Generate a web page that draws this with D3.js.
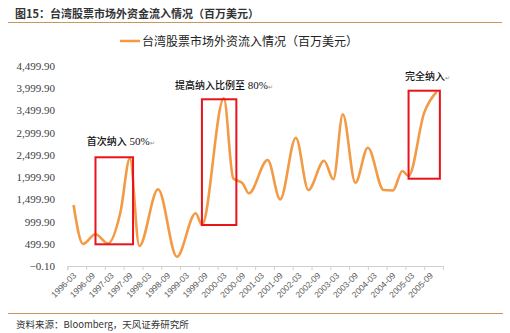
<!DOCTYPE html>
<html><head><meta charset="utf-8">
<script src="https://cdn.jsdelivr.net/npm/d3@7"></script>
<style>body{margin:0;background:#fff}svg{display:block}</style>
</head><body><svg id="c" width="510" height="333"></svg>
<script>
const titleText = "图15：台湾股票市场外资金流入情况（百万美元）";
const seriesName = "台湾股票市场外资流入情况（百万美元）";
const sourceText = "资料来源：Bloomberg，天风证券研究所";
const xLabels = ["1996-03","1996-09","1997-03","1997-09","1998-03","1998-09","1999-03","1999-09","2000-03","2000-09","2001-03","2001-09","2002-03","2002-09","2003-03","2003-09","2004-03","2004-09","2005-03","2005-09"];
const yTicks = [-0.1, 499.9, 999.9, 1499.9, 1999.9, 2499.9, 2999.9, 3499.9, 3999.9, 4499.9];
const dates = ["1996-05","1996-08","1996-12","1997-04","1997-08","1997-11","1998-02","1998-08","1999-02","1999-08","1999-10","2000-05","2000-08","2000-11","2001-01","2001-07","2001-11","2002-04","2002-08","2003-01","2003-04","2003-07","2003-11","2004-03","2004-08","2004-11","2005-02","2005-04","2005-09","2006-01"];
const values = [1372, 495, 713, 506, 1222, 2423, 450, 1726, 209, 1186, 922, 3773, 1973, 1861, 1636, 2385, 1500, 2887, 1710, 2369, 1951, 3413, 1874, 2662, 1710, 1700, 2137, 2025, 3450, 3922];
const boxLabels = ["首次纳入 50%", "提高纳入比例至 80%", "完全纳入"];
const boxStart = ["1996-12", "1999-10", "2005-04"];
const boxEnd = ["1997-12", "2000-09", "2006-02"];
const boxLow = [488, 922, 1964];
const boxHigh = [2446, 3751, 3944];

const svg = d3.select("#c");
const monthIdx = s => { const [y, m] = s.split("-").map(Number); return (y - 1996) * 12 + (m - 3); };
const x = d3.scaleLinear().domain([0, 120]).range([67.3, 443]);
const xb = d3.scaleBand().domain(xLabels).range([67.3, 443]);
const y = d3.scaleLinear().domain([-0.1, 4499.9]).range([266, 66]);

// title
svg.append("text").attr("x", 15).attr("y", 18).text(titleText)
  .attr("font-family", "'Noto Sans CJK SC', sans-serif").attr("font-size", 11).attr("font-weight", "bold").attr("fill", "#333");
svg.append("line").attr("x1", 8).attr("x2", 502).attr("y1", 22.5).attr("y2", 22.5).attr("stroke", "#c8955f").attr("stroke-width", 1.2);
svg.append("line").attr("x1", 8).attr("x2", 503).attr("y1", 313.5).attr("y2", 313.5).attr("stroke", "#c8955f").attr("stroke-width", 1.2);
svg.append("text").attr("x", 16).attr("y", 328).text(sourceText)
  .attr("font-family", "'Noto Sans CJK SC', sans-serif").attr("font-size", 9.5).attr("fill", "#333");

// legend
svg.append("line").attr("x1", 120).attr("x2", 140).attr("y1", 41).attr("y2", 41).attr("stroke", "#f29a45").attr("stroke-width", 2.5);
svg.append("text").attr("x", 142).attr("y", 45.5).text(seriesName)
  .attr("font-family", "'Noto Sans CJK SC', sans-serif").attr("font-size", 12).attr("fill", "#222");

// y axis labels
const yAxis = d3.axisLeft(y).tickValues(yTicks).tickSize(0).tickPadding(0)
  .tickFormat(d => d3.format(",.2f")(d));
const gy = svg.append("g").attr("transform", "translate(55,0)").call(yAxis);
gy.select(".domain").remove();
gy.selectAll("text").attr("font-family", "'Liberation Serif', serif").attr("font-size", 11).attr("fill", "#404040");

// x axis
const gx = svg.append("g").attr("transform", "translate(0,266)")
  .call(d3.axisBottom(x).tickValues(d3.range(0, 121, 6)).tickSize(4).tickFormat(""));
gx.selectAll("line, path").attr("stroke", "#d0d0d0");
const gl = svg.append("g").attr("transform", "translate(0,266)");
gl.selectAll("text").data(xLabels).join("text")
  .attr("transform", d => `translate(${xb(d) + xb.bandwidth() / 2 - 2},8) rotate(-45)`)
  .attr("text-anchor", "end").attr("dy", "0.35em")
  .attr("font-family", "'Liberation Sans', sans-serif").attr("font-size", 8.5).attr("fill", "#595959")
  .text(d => d);

// line
const pts = dates.map((d, i) => [monthIdx(d), values[i]]);
svg.append("path").datum(pts)
  .attr("d", d3.line().x(d => x(d[0])).y(d => y(d[1])).curve(d3.curveMonotoneX))
  .attr("fill", "none").attr("stroke", "#f29a45").attr("stroke-width", 2.6).attr("stroke-linejoin", "round");

// boxes
boxLabels.forEach((lab, i) => {
  const x0 = x(monthIdx(boxStart[i])), x1 = x(monthIdx(boxEnd[i]));
  svg.append("rect").attr("x", x0).attr("y", y(boxHigh[i])).attr("width", x1 - x0).attr("height", y(boxLow[i]) - y(boxHigh[i]))
    .attr("fill", "none").attr("stroke", "#e8141b").attr("stroke-width", 2);
});
const annX = [86.7, 175, 405], annY = [144.5, 89, 79.5];
boxLabels.forEach((lab, i) => {
  const t = svg.append("text").attr("x", annX[i]).attr("y", annY[i])
    .attr("font-family", "'Noto Sans CJK SC', serif").attr("font-size", 10).attr("font-weight", 500).attr("fill", "#111");
  const parts = lab.split(" ");
  t.append("tspan").text(parts[0]);
  if (parts[1]) t.append("tspan").attr("font-family", "'Liberation Serif', serif").attr("font-size", 11).attr("font-weight", "normal").text(" " + parts[1]);
  t.append("tspan").attr("font-size", 6).attr("fill", "#888").attr("font-weight", "normal").text("↵");
});
</script></body></html>
